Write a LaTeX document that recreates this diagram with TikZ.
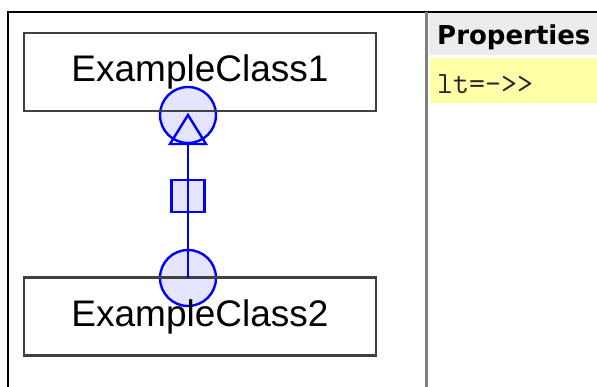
\documentclass[tikz,border=0pt]{standalone}
\usepackage{fontspec}
\setmainfont{Liberation Sans}
\newfontfamily\propfont{DejaVu Sans}
\definecolor{umlblue}{RGB}{0,0,255}
\definecolor{headgray}{RGB}{236,236,236}
\definecolor{rowyellow}{RGB}{255,255,168}
\tikzset{
  classbox/.style={draw=black!75,line width=2.2pt,minimum width=352pt,minimum height=78pt,
    inner sep=0pt,font=\fontsize{37}{44}\selectfont},
  endring/.style={circle,draw=umlblue,line width=2.4pt,fill=umlblue,fill opacity=0.1,
    draw opacity=1,minimum size=56pt,inner sep=0pt},
  midbox/.style={rectangle,draw=umlblue,line width=2.4pt,fill=umlblue,fill opacity=0.1,
    draw opacity=1,minimum width=33pt,minimum height=32pt,inner sep=0pt},
  link/.style={draw=umlblue,line width=2.4pt}
}
\begin{document}
\begin{tikzpicture}[x=1pt,y=-1pt]
\useasboundingbox (0,0) rectangle (597,387);
% properties pane
\fill[headgray] (429,13) rectangle (597,55);
\fill[rowyellow] (430,58) rectangle (597,103);
\node[anchor=base west,inner sep=0pt,font=\propfont\bfseries\fontsize{26}{30}\selectfont] (proptitle) at (437,45) {Properties};
\node[anchor=base west,inner sep=0pt,font=\ttfamily\fontsize{31}{34}\selectfont,text=black!85] (propline) at (437,94) {lt=->>};
% frame and divider
\draw[black,line width=2.4pt] (8,387) -- (8,12) -- (597,12);
\draw[black!50,line width=3.5pt] (426.5,12) -- (426.5,387);
% the two classes and their link
\node[endring] (ring1) at (188,115) {};
\node[endring] (ring2) at (188,278) {};
\node[classbox] (cls1) at (200,72) {ExampleClass1};
\node[classbox] (cls2) at (200,316.5) {ExampleClass2};
\coordinate (tipbase) at (188,144);
\draw[link] (ring2.center) -- (tipbase);
\node[midbox] (mid) at (188,196) {};
\draw[link] (mid.north) -- (mid.south);
\draw[link,line join=miter]
  (ring1.center) -- ([xshift=18pt]tipbase) -- ([xshift=-18pt]tipbase) -- cycle;
\end{tikzpicture}
\end{document}
